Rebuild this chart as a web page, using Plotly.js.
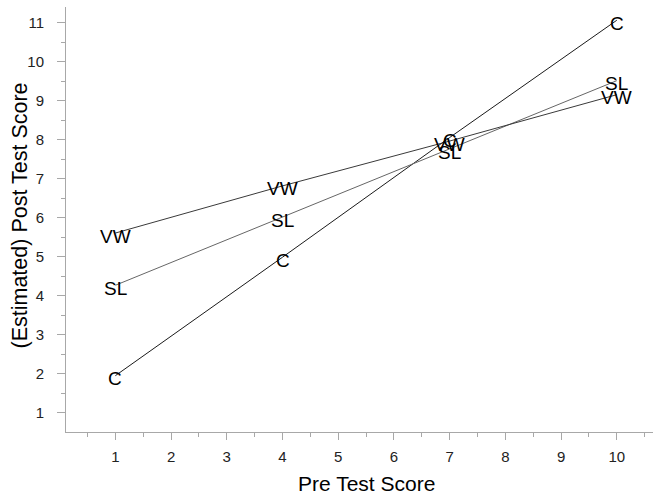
<!DOCTYPE html>
<html>
<head>
<meta charset="utf-8">
<script src="https://cdn.plot.ly/plotly-3.0.1.min.js"></script>
<style>html,body{margin:0;padding:0;background:#fff;}#chart{width:653px;height:494px;}</style>
</head>
<body>
<div id="chart"></div>
<script>
const preScores = [1, 4, 7, 10];
const groups = ["C", "SL", "VW"];
const valuesC = [1.95, 4.99, 8.06, 11.07];
const valuesSL = [4.27, 6.02, 7.75, 9.52];
const valuesVW = [5.61, 6.82, 7.97, 9.16];
const lineColors = ["#1a1a1a", "#666666", "#3a3a3a"];
const xTickVals = [1, 2, 3, 4, 5, 6, 7, 8, 9, 10];
const yTickVals = [1, 2, 3, 4, 5, 6, 7, 8, 9, 10, 11];
const xTitle = "Pre Test Score";
const yTitle = "(Estimated) Post Test Score";

const FONT = "Liberation Sans, Arial, Helvetica, sans-serif";
const seriesValues = [valuesC, valuesSL, valuesVW];
const traces = groups.map((g, i) => ({
  x: preScores,
  y: seriesValues[i],
  mode: "lines",
  name: g,
  line: {color: lineColors[i], width: 1},
  showlegend: false
}));

const annotations = [];
groups.forEach((g, i) => {
  preScores.forEach((xv, j) => {
    annotations.push({
      x: xv, y: seriesValues[i][j], xref: "x", yref: "y",
      text: g, showarrow: false, yshift: -3,
      xanchor: "center", yanchor: "middle",
      font: {family: FONT, size: 19, color: "#000"}
    });
  });
});
// axis titles
annotations.push({
  x: 0.5, y: 0, xref: "paper", yref: "paper",
  xanchor: "center", yanchor: "middle", xshift: 7, yshift: -51,
  text: xTitle, showarrow: false,
  font: {family: FONT, size: 21, color: "#000"}
});
annotations.push({
  x: 0, y: 0.5, xref: "paper", yref: "paper",
  xanchor: "center", yanchor: "middle", xshift: -47, yshift: 4,
  text: yTitle, showarrow: false, textangle: -90,
  font: {family: FONT, size: 21.5, color: "#000"}
});

const axisCommon = {
  showgrid: false,
  zeroline: false,
  showline: true,
  linecolor: "#a8a8a8",
  linewidth: 1,
  ticks: "outside",
  ticklen: 7,
  tickcolor: "#a8a8a8",
  tickfont: {family: FONT, size: 15, color: "#222"},
  minor: {dtick: 0.5, ticks: "outside", ticklen: 4, tickcolor: "#a8a8a8"}
};

const layout = {
  width: 653,
  height: 494,
  margin: {l: 66, r: 0, t: 7, b: 62},
  paper_bgcolor: "#fff",
  plot_bgcolor: "#fff",
  annotations: annotations,
  xaxis: Object.assign({}, axisCommon, {
    range: [0.114, 10.65],
    tickmode: "array",
    tickvals: xTickVals,
    ticklabelstandoff: 4
  }),
  yaxis: Object.assign({}, axisCommon, {
    range: [0.505, 11.41],
    tickmode: "array",
    tickvals: yTickVals,
    ticklen: 8,
    ticklabelstandoff: 10
  })
};

Plotly.newPlot("chart", traces, layout, {displayModeBar: false, staticPlot: true});
</script>
</body>
</html>
